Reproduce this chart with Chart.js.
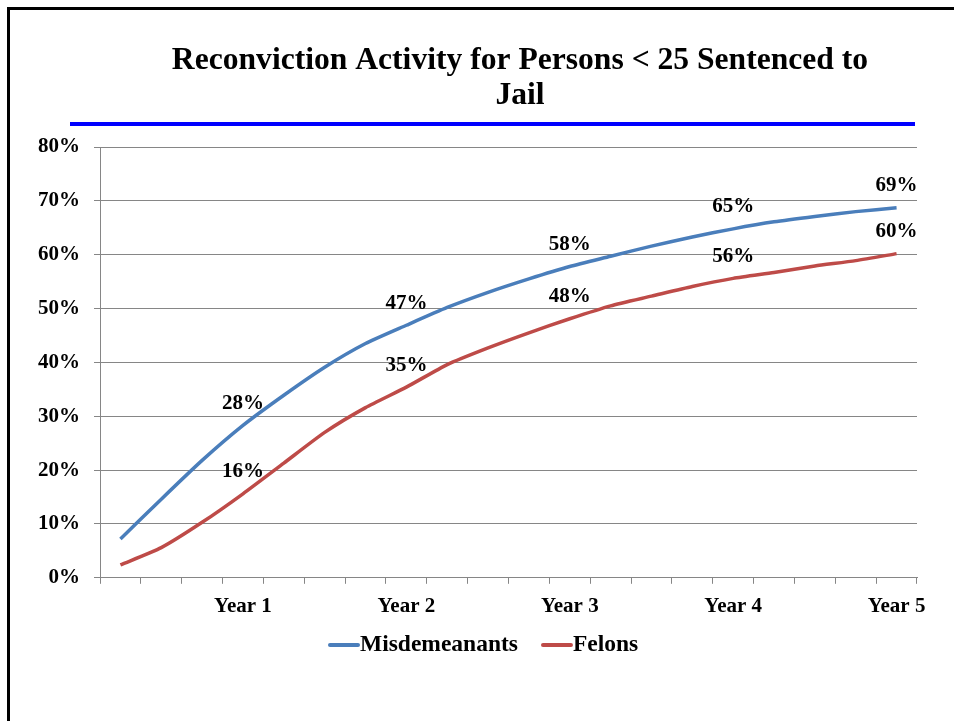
<!DOCTYPE html>
<html>
<head>
<meta charset="utf-8">
<script src="https://cdn.jsdelivr.net/npm/chart.js@4.4.0/dist/chart.umd.min.js"></script>
<style>
  html, body { margin: 0; padding: 0; background: #ffffff; }
  #wrap { width: 954px; height: 721px; position: relative; }
</style>
</head>
<body>
<div id="wrap"><canvas id="c"></canvas></div>
<script>
// ---- data ----
const categories = ['', '', '', 'Year 1', '', '', '', 'Year 2', '', '', '', 'Year 3', '', '', '', 'Year 4', '', '', '', 'Year 5'];
const misdemeanants = [7.2, 14.6, 21.8, 28.3, 33.9, 39.1, 43.5, 46.9, 50.2, 53.0, 55.5, 57.8, 59.7, 61.6, 63.3, 64.8, 66.1, 67.1, 68.0, 68.7];
const felons = [2.4, 5.6, 10.3, 15.6, 21.3, 27.0, 31.6, 35.4, 39.6, 42.7, 45.5, 48.1, 50.5, 52.3, 54.1, 55.6, 56.7, 57.9, 58.9, 60.2];
const labelIndices = [3, 7, 11, 15, 19];
const yTicks = [0, 10, 20, 30, 40, 50, 60, 70, 80];
const titleLines = ['Reconviction Activity for Persons < 25 Sentenced to', 'Jail'];
const seriesNames = ['Misdemeanants', 'Felons'];

const SERIF = '"Liberation Serif", "DejaVu Serif", serif';

const decorPlugin = {
  id: 'decor',
  beforeDraw(chart) {
    const ctx = chart.ctx;
    ctx.save();
    ctx.fillStyle = '#ffffff';
    ctx.fillRect(0, 0, chart.width, chart.height);
    // frame
    ctx.fillStyle = '#000000';
    ctx.fillRect(7, 7, chart.width - 7, 3);
    ctx.fillRect(7, 7, 3, chart.height - 7);
    // blue rule
    ctx.fillStyle = '#0000ff';
    ctx.fillRect(70, 122, 845, 4);
    // title
    ctx.fillStyle = '#000000';
    ctx.font = 'bold 31.6px ' + SERIF;
    ctx.textAlign = 'center';
    ctx.textBaseline = 'middle';
    ctx.fillText(titleLines[0], 520, 61);
    ctx.fillText(titleLines[1], 520, 96);
    ctx.restore();
  },
  afterDatasetsDraw(chart) {
    const ctx = chart.ctx;
    ctx.save();
    ctx.fillStyle = '#000000';
    ctx.font = 'bold 21px ' + SERIF;
    ctx.textAlign = 'center';
    ctx.textBaseline = 'middle';
    chart.data.datasets.forEach((ds, di) => {
      const meta = chart.getDatasetMeta(di);
      labelIndices.forEach(i => {
        const pt = meta.data[i];
        ctx.fillText(Math.round(ds.data[i]) + '%', pt.x, pt.y - 22);
      });
    });
    // legend
    ctx.font = 'bold 23.5px ' + SERIF;
    ctx.textAlign = 'left';
    let x = 330;
    const y = 645;
    chart.data.datasets.forEach((ds) => {
      ctx.strokeStyle = ds.borderColor;
      ctx.lineWidth = 4;
      ctx.lineCap = 'round';
      ctx.beginPath();
      ctx.moveTo(x, y);
      ctx.lineTo(x + 28, y);
      ctx.stroke();
      ctx.fillText(ds.label, x + 30, y);
      x += 30 + ctx.measureText(ds.label).width + 25;
    });
    ctx.restore();
  }
};

new Chart(document.getElementById('c'), {
  type: 'line',
  data: {
    labels: categories,
    datasets: [
      { label: seriesNames[0], data: misdemeanants, borderColor: '#4a7ebb', borderWidth: 3.5, pointRadius: 0, tension: 0.2, fill: false },
      { label: seriesNames[1], data: felons, borderColor: '#be4b48', borderWidth: 3.5, pointRadius: 0, tension: 0.2, fill: false }
    ]
  },
  options: {
    responsive: true,
    maintainAspectRatio: false,
    animation: false,
    devicePixelRatio: 1,
    layout: { padding: { left: 10, top: 147, right: 37, bottom: 92 } },
    plugins: { legend: { display: false }, title: { display: false }, tooltip: { enabled: false } },
    scales: {
      x: {
        offset: true,
        grid: { offset: true, drawOnChartArea: false, color: '#868686', tickLength: 6 },
        border: { color: '#868686' },
        ticks: { autoSkip: false, maxRotation: 0, color: '#000', padding: 10, font: { family: SERIF, size: 21, weight: 'bold' } }
      },
      y: {
        min: 0, max: 80,
        afterFit(scale) { scale.width = 90; },
        afterBuildTicks(scale) { scale.ticks = yTicks.map(v => ({ value: v })); },
        grid: { color: '#868686', tickLength: 6 },
        border: { color: '#868686' },
        ticks: { color: '#000', padding: 14, callback: v => v + '%', font: { family: SERIF, size: 21, weight: 'bold' } }
      }
    }
  },
  plugins: [decorPlugin]
});
</script>
</body>
</html>
